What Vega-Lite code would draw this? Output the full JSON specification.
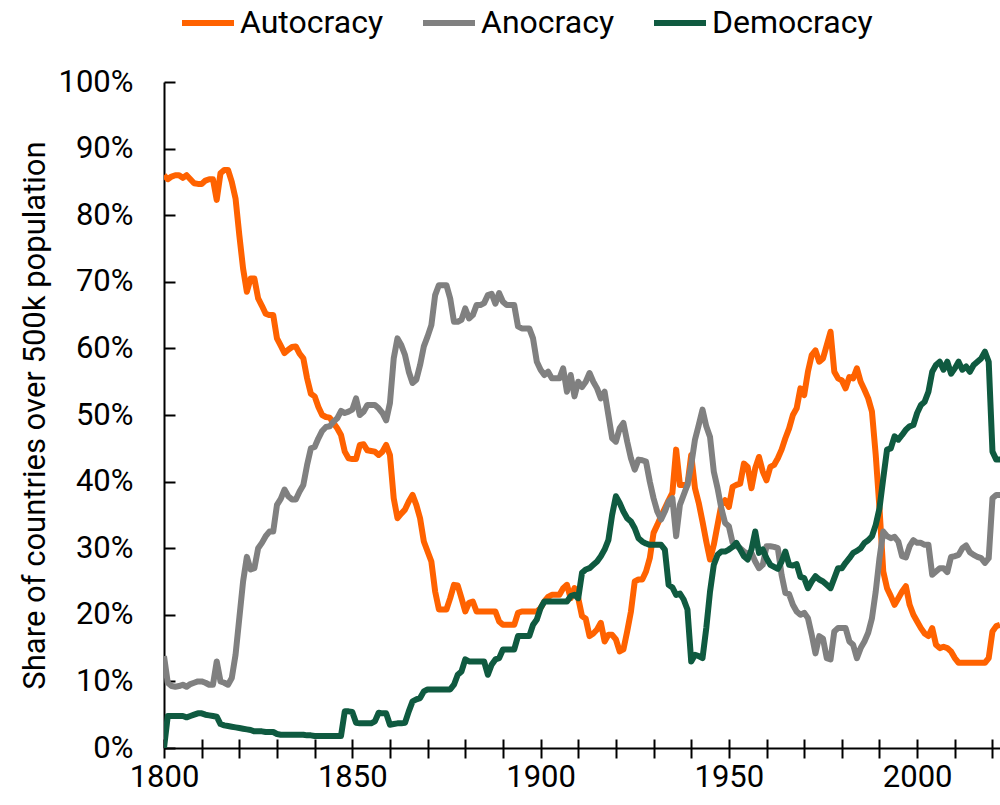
{
  "$schema": "https://vega.github.io/schema/vega-lite/v6.json",
  "width": 836,
  "height": 666,
  "autosize": {"type": "none"},
  "padding": {"left": 164, "top": 82, "right": 0, "bottom": 57},
  "background": "white",
  "config": {
    "font": "Roboto",
    "view": {"stroke": null},
    "axis": {"grid": false, "labelColor": "#000000", "titleColor": "#000000", "domainColor": "#000000", "tickColor": "#000000", "domainWidth": 2, "tickWidth": 2, "labelFont": "Roboto", "titleFont": "Roboto"},
    "legend": {"labelFont": "Roboto"}
  },
  "data": {"values": [
{"year":1800,"Autocracy":86.0,"Anocracy":13.8,"Democracy":0.0},
{"year":1801,"Autocracy":85.4,"Anocracy":9.8,"Democracy":4.8},
{"year":1802,"Autocracy":85.8,"Anocracy":9.3,"Democracy":4.8},
{"year":1803,"Autocracy":86.0,"Anocracy":9.2,"Democracy":4.8},
{"year":1804,"Autocracy":86.0,"Anocracy":9.3,"Democracy":4.8},
{"year":1805,"Autocracy":85.6,"Anocracy":9.5,"Democracy":4.8},
{"year":1806,"Autocracy":86.0,"Anocracy":9.2,"Democracy":4.6},
{"year":1807,"Autocracy":85.4,"Anocracy":9.6,"Democracy":4.8},
{"year":1808,"Autocracy":84.8,"Anocracy":9.8,"Democracy":5.0},
{"year":1809,"Autocracy":84.7,"Anocracy":10.0,"Democracy":5.2},
{"year":1810,"Autocracy":84.7,"Anocracy":10.0,"Democracy":5.2},
{"year":1811,"Autocracy":85.2,"Anocracy":9.8,"Democracy":5.0},
{"year":1812,"Autocracy":85.4,"Anocracy":9.5,"Democracy":4.9},
{"year":1813,"Autocracy":85.4,"Anocracy":9.5,"Democracy":4.8},
{"year":1814,"Autocracy":82.3,"Anocracy":13.0,"Democracy":4.7},
{"year":1815,"Autocracy":86.3,"Anocracy":10.0,"Democracy":3.6},
{"year":1816,"Autocracy":86.8,"Anocracy":9.8,"Democracy":3.4},
{"year":1817,"Autocracy":86.8,"Anocracy":9.5,"Democracy":3.3},
{"year":1818,"Autocracy":85.0,"Anocracy":10.5,"Democracy":3.2},
{"year":1819,"Autocracy":82.5,"Anocracy":14.0,"Democracy":3.1},
{"year":1820,"Autocracy":77.0,"Anocracy":19.5,"Democracy":3.0},
{"year":1821,"Autocracy":72.0,"Anocracy":25.0,"Democracy":2.9},
{"year":1822,"Autocracy":68.5,"Anocracy":28.7,"Democracy":2.8},
{"year":1823,"Autocracy":70.5,"Anocracy":26.8,"Democracy":2.7},
{"year":1824,"Autocracy":70.5,"Anocracy":27.0,"Democracy":2.5},
{"year":1825,"Autocracy":67.5,"Anocracy":30.0,"Democracy":2.5},
{"year":1826,"Autocracy":66.4,"Anocracy":30.8,"Democracy":2.5},
{"year":1827,"Autocracy":65.2,"Anocracy":31.8,"Democracy":2.4},
{"year":1828,"Autocracy":65.0,"Anocracy":32.5,"Democracy":2.4},
{"year":1829,"Autocracy":65.0,"Anocracy":32.5,"Democracy":2.4},
{"year":1830,"Autocracy":61.5,"Anocracy":36.5,"Democracy":2.1},
{"year":1831,"Autocracy":60.4,"Anocracy":37.4,"Democracy":2.0},
{"year":1832,"Autocracy":59.3,"Anocracy":38.8,"Democracy":2.0},
{"year":1833,"Autocracy":59.8,"Anocracy":37.8,"Democracy":2.0},
{"year":1834,"Autocracy":60.2,"Anocracy":37.3,"Democracy":2.0},
{"year":1835,"Autocracy":60.3,"Anocracy":37.3,"Democracy":2.0},
{"year":1836,"Autocracy":59.2,"Anocracy":38.5,"Democracy":2.0},
{"year":1837,"Autocracy":58.5,"Anocracy":39.5,"Democracy":2.0},
{"year":1838,"Autocracy":55.5,"Anocracy":42.5,"Democracy":1.9},
{"year":1839,"Autocracy":53.2,"Anocracy":45.0,"Democracy":1.9},
{"year":1840,"Autocracy":52.8,"Anocracy":45.2,"Democracy":1.8},
{"year":1841,"Autocracy":51.2,"Anocracy":46.5,"Democracy":1.8},
{"year":1842,"Autocracy":50.0,"Anocracy":47.6,"Democracy":1.8},
{"year":1843,"Autocracy":49.7,"Anocracy":48.2,"Democracy":1.8},
{"year":1844,"Autocracy":49.6,"Anocracy":48.3,"Democracy":1.8},
{"year":1845,"Autocracy":48.8,"Anocracy":49.0,"Democracy":1.8},
{"year":1846,"Autocracy":48.0,"Anocracy":49.5,"Democracy":1.8},
{"year":1847,"Autocracy":47.0,"Anocracy":50.6,"Democracy":1.8},
{"year":1848,"Autocracy":44.5,"Anocracy":50.3,"Democracy":5.5},
{"year":1849,"Autocracy":43.5,"Anocracy":50.5,"Democracy":5.5},
{"year":1850,"Autocracy":43.4,"Anocracy":50.8,"Democracy":5.4},
{"year":1851,"Autocracy":43.4,"Anocracy":52.5,"Democracy":3.8},
{"year":1852,"Autocracy":45.5,"Anocracy":50.0,"Democracy":3.7},
{"year":1853,"Autocracy":45.6,"Anocracy":50.5,"Democracy":3.7},
{"year":1854,"Autocracy":44.7,"Anocracy":51.5,"Democracy":3.7},
{"year":1855,"Autocracy":44.6,"Anocracy":51.5,"Democracy":3.7},
{"year":1856,"Autocracy":44.5,"Anocracy":51.5,"Democracy":4.0},
{"year":1857,"Autocracy":44.0,"Anocracy":51.0,"Democracy":5.3},
{"year":1858,"Autocracy":44.5,"Anocracy":50.3,"Democracy":5.2},
{"year":1859,"Autocracy":45.5,"Anocracy":49.2,"Democracy":5.2},
{"year":1860,"Autocracy":44.0,"Anocracy":51.8,"Democracy":3.5},
{"year":1861,"Autocracy":37.5,"Anocracy":58.5,"Democracy":3.6},
{"year":1862,"Autocracy":34.5,"Anocracy":61.5,"Democracy":3.7},
{"year":1863,"Autocracy":35.2,"Anocracy":60.5,"Democracy":3.7},
{"year":1864,"Autocracy":35.8,"Anocracy":59.0,"Democracy":3.8},
{"year":1865,"Autocracy":37.0,"Anocracy":56.5,"Democracy":5.5},
{"year":1866,"Autocracy":38.0,"Anocracy":54.8,"Democracy":7.0},
{"year":1867,"Autocracy":36.5,"Anocracy":55.3,"Democracy":7.3},
{"year":1868,"Autocracy":34.5,"Anocracy":57.5,"Democracy":7.5},
{"year":1869,"Autocracy":31.0,"Anocracy":60.3,"Democracy":8.5},
{"year":1870,"Autocracy":29.5,"Anocracy":61.8,"Democracy":8.8},
{"year":1871,"Autocracy":28.0,"Anocracy":63.5,"Democracy":8.8},
{"year":1872,"Autocracy":23.5,"Anocracy":68.0,"Democracy":8.8},
{"year":1873,"Autocracy":20.8,"Anocracy":69.5,"Democracy":8.8},
{"year":1874,"Autocracy":20.8,"Anocracy":69.5,"Democracy":8.8},
{"year":1875,"Autocracy":20.8,"Anocracy":69.5,"Democracy":8.8},
{"year":1876,"Autocracy":22.5,"Anocracy":67.5,"Democracy":8.8},
{"year":1877,"Autocracy":24.5,"Anocracy":64.0,"Democracy":9.5},
{"year":1878,"Autocracy":24.4,"Anocracy":64.0,"Democracy":11.0},
{"year":1879,"Autocracy":22.5,"Anocracy":64.3,"Democracy":11.5},
{"year":1880,"Autocracy":20.5,"Anocracy":66.0,"Democracy":13.3},
{"year":1881,"Autocracy":21.8,"Anocracy":64.5,"Democracy":13.0},
{"year":1882,"Autocracy":22.0,"Anocracy":65.0,"Democracy":13.0},
{"year":1883,"Autocracy":20.5,"Anocracy":66.5,"Democracy":13.0},
{"year":1884,"Autocracy":20.5,"Anocracy":66.5,"Democracy":13.0},
{"year":1885,"Autocracy":20.5,"Anocracy":66.8,"Democracy":13.0},
{"year":1886,"Autocracy":20.5,"Anocracy":68.0,"Democracy":11.0},
{"year":1887,"Autocracy":20.5,"Anocracy":68.2,"Democracy":12.5},
{"year":1888,"Autocracy":20.5,"Anocracy":66.7,"Democracy":13.3},
{"year":1889,"Autocracy":19.0,"Anocracy":68.3,"Democracy":13.5},
{"year":1890,"Autocracy":18.5,"Anocracy":67.0,"Democracy":14.8},
{"year":1891,"Autocracy":18.5,"Anocracy":66.5,"Democracy":14.8},
{"year":1892,"Autocracy":18.5,"Anocracy":66.5,"Democracy":14.8},
{"year":1893,"Autocracy":18.5,"Anocracy":66.5,"Democracy":14.8},
{"year":1894,"Autocracy":20.3,"Anocracy":63.3,"Democracy":16.8},
{"year":1895,"Autocracy":20.5,"Anocracy":63.0,"Democracy":16.8},
{"year":1896,"Autocracy":20.5,"Anocracy":63.0,"Democracy":16.8},
{"year":1897,"Autocracy":20.5,"Anocracy":63.0,"Democracy":16.8},
{"year":1898,"Autocracy":20.5,"Anocracy":61.5,"Democracy":18.5},
{"year":1899,"Autocracy":20.5,"Anocracy":58.0,"Democracy":19.3},
{"year":1900,"Autocracy":21.0,"Anocracy":56.8,"Democracy":21.0},
{"year":1901,"Autocracy":22.0,"Anocracy":56.0,"Democracy":22.0},
{"year":1902,"Autocracy":22.7,"Anocracy":56.5,"Democracy":22.0},
{"year":1903,"Autocracy":23.0,"Anocracy":55.5,"Democracy":22.0},
{"year":1904,"Autocracy":23.0,"Anocracy":55.5,"Democracy":22.0},
{"year":1905,"Autocracy":23.0,"Anocracy":55.5,"Democracy":22.0},
{"year":1906,"Autocracy":24.0,"Anocracy":57.0,"Democracy":22.0},
{"year":1907,"Autocracy":24.5,"Anocracy":53.5,"Democracy":22.0},
{"year":1908,"Autocracy":22.5,"Anocracy":56.0,"Democracy":22.8},
{"year":1909,"Autocracy":24.0,"Anocracy":52.8,"Democracy":23.0},
{"year":1910,"Autocracy":22.5,"Anocracy":55.0,"Democracy":22.5},
{"year":1911,"Autocracy":19.8,"Anocracy":54.2,"Democracy":26.3},
{"year":1912,"Autocracy":19.4,"Anocracy":55.0,"Democracy":26.8},
{"year":1913,"Autocracy":16.8,"Anocracy":56.3,"Democracy":27.0},
{"year":1914,"Autocracy":17.2,"Anocracy":55.0,"Democracy":27.5},
{"year":1915,"Autocracy":17.8,"Anocracy":54.0,"Democracy":28.0},
{"year":1916,"Autocracy":18.8,"Anocracy":52.5,"Democracy":28.8},
{"year":1917,"Autocracy":16.0,"Anocracy":53.5,"Democracy":29.8},
{"year":1918,"Autocracy":17.0,"Anocracy":50.0,"Democracy":31.2},
{"year":1919,"Autocracy":17.0,"Anocracy":46.5,"Democracy":35.0},
{"year":1920,"Autocracy":16.3,"Anocracy":46.0,"Democracy":37.8},
{"year":1921,"Autocracy":14.5,"Anocracy":48.0,"Democracy":36.8},
{"year":1922,"Autocracy":14.8,"Anocracy":48.8,"Democracy":35.5},
{"year":1923,"Autocracy":17.5,"Anocracy":46.0,"Democracy":34.5},
{"year":1924,"Autocracy":20.5,"Anocracy":43.5,"Democracy":34.0},
{"year":1925,"Autocracy":25.0,"Anocracy":41.8,"Democracy":33.0},
{"year":1926,"Autocracy":25.3,"Anocracy":43.3,"Democracy":31.5},
{"year":1927,"Autocracy":25.3,"Anocracy":43.2,"Democracy":31.0},
{"year":1928,"Autocracy":26.5,"Anocracy":43.0,"Democracy":30.7},
{"year":1929,"Autocracy":28.5,"Anocracy":40.0,"Democracy":30.5},
{"year":1930,"Autocracy":32.3,"Anocracy":37.5,"Democracy":30.5},
{"year":1931,"Autocracy":33.5,"Anocracy":35.5,"Democracy":30.5},
{"year":1932,"Autocracy":34.8,"Anocracy":34.3,"Democracy":30.5},
{"year":1933,"Autocracy":36.0,"Anocracy":35.5,"Democracy":29.8},
{"year":1934,"Autocracy":37.2,"Anocracy":37.0,"Democracy":24.5},
{"year":1935,"Autocracy":38.3,"Anocracy":37.5,"Democracy":24.1},
{"year":1936,"Autocracy":44.8,"Anocracy":31.8,"Democracy":23.0},
{"year":1937,"Autocracy":39.5,"Anocracy":36.5,"Democracy":23.2},
{"year":1938,"Autocracy":39.5,"Anocracy":38.0,"Democracy":22.3},
{"year":1939,"Autocracy":39.5,"Anocracy":39.5,"Democracy":20.8},
{"year":1940,"Autocracy":44.0,"Anocracy":42.5,"Democracy":13.0},
{"year":1941,"Autocracy":39.0,"Anocracy":46.3,"Democracy":14.0},
{"year":1942,"Autocracy":36.8,"Anocracy":48.5,"Democracy":13.8},
{"year":1943,"Autocracy":34.0,"Anocracy":50.8,"Democracy":13.5},
{"year":1944,"Autocracy":31.0,"Anocracy":48.3,"Democracy":18.0},
{"year":1945,"Autocracy":28.3,"Anocracy":46.7,"Democracy":23.5},
{"year":1946,"Autocracy":30.5,"Anocracy":41.5,"Democracy":27.5},
{"year":1947,"Autocracy":33.5,"Anocracy":39.0,"Democracy":29.0},
{"year":1948,"Autocracy":36.5,"Anocracy":36.0,"Democracy":29.5},
{"year":1949,"Autocracy":37.2,"Anocracy":33.8,"Democracy":29.5},
{"year":1950,"Autocracy":36.2,"Anocracy":33.3,"Democracy":29.8},
{"year":1951,"Autocracy":39.2,"Anocracy":30.8,"Democracy":30.2},
{"year":1952,"Autocracy":39.5,"Anocracy":30.3,"Democracy":30.8},
{"year":1953,"Autocracy":39.7,"Anocracy":30.0,"Democracy":29.8},
{"year":1954,"Autocracy":42.7,"Anocracy":29.5,"Democracy":28.8},
{"year":1955,"Autocracy":42.2,"Anocracy":29.2,"Democracy":28.3},
{"year":1956,"Autocracy":39.0,"Anocracy":29.3,"Democracy":29.8},
{"year":1957,"Autocracy":42.0,"Anocracy":28.0,"Democracy":32.5},
{"year":1958,"Autocracy":43.7,"Anocracy":27.0,"Democracy":29.3},
{"year":1959,"Autocracy":41.5,"Anocracy":27.5,"Democracy":29.8},
{"year":1960,"Autocracy":40.2,"Anocracy":30.3,"Democracy":28.5},
{"year":1961,"Autocracy":42.2,"Anocracy":30.3,"Democracy":27.5},
{"year":1962,"Autocracy":42.5,"Anocracy":30.2,"Democracy":27.2},
{"year":1963,"Autocracy":43.5,"Anocracy":30.0,"Democracy":26.9},
{"year":1964,"Autocracy":44.8,"Anocracy":26.0,"Democracy":28.0},
{"year":1965,"Autocracy":46.5,"Anocracy":23.3,"Democracy":29.5},
{"year":1966,"Autocracy":48.0,"Anocracy":23.1,"Democracy":27.5},
{"year":1967,"Autocracy":50.0,"Anocracy":21.5,"Democracy":27.4},
{"year":1968,"Autocracy":51.0,"Anocracy":20.5,"Democracy":27.6},
{"year":1969,"Autocracy":54.0,"Anocracy":20.0,"Democracy":25.7},
{"year":1970,"Autocracy":53.0,"Anocracy":20.3,"Democracy":25.5},
{"year":1971,"Autocracy":56.5,"Anocracy":19.5,"Democracy":24.0},
{"year":1972,"Autocracy":59.0,"Anocracy":17.0,"Democracy":25.0},
{"year":1973,"Autocracy":59.7,"Anocracy":14.2,"Democracy":25.8},
{"year":1974,"Autocracy":58.0,"Anocracy":16.8,"Democracy":25.3},
{"year":1975,"Autocracy":58.5,"Anocracy":16.4,"Democracy":25.0},
{"year":1976,"Autocracy":60.5,"Anocracy":13.5,"Democracy":24.5},
{"year":1977,"Autocracy":62.5,"Anocracy":13.3,"Democracy":24.0},
{"year":1978,"Autocracy":56.5,"Anocracy":17.5,"Democracy":25.5},
{"year":1979,"Autocracy":55.5,"Anocracy":18.0,"Democracy":27.0},
{"year":1980,"Autocracy":55.2,"Anocracy":18.0,"Democracy":27.0},
{"year":1981,"Autocracy":54.0,"Anocracy":18.0,"Democracy":27.8},
{"year":1982,"Autocracy":55.7,"Anocracy":16.0,"Democracy":28.5},
{"year":1983,"Autocracy":55.5,"Anocracy":15.5,"Democracy":29.3},
{"year":1984,"Autocracy":57.0,"Anocracy":13.5,"Democracy":29.6},
{"year":1985,"Autocracy":55.0,"Anocracy":15.0,"Democracy":30.0},
{"year":1986,"Autocracy":53.8,"Anocracy":16.0,"Democracy":30.8},
{"year":1987,"Autocracy":52.5,"Anocracy":17.3,"Democracy":31.2},
{"year":1988,"Autocracy":50.5,"Anocracy":19.5,"Democracy":31.8},
{"year":1989,"Autocracy":44.0,"Anocracy":23.5,"Democracy":33.5},
{"year":1990,"Autocracy":36.0,"Anocracy":28.5,"Democracy":36.0},
{"year":1991,"Autocracy":26.5,"Anocracy":32.5,"Democracy":40.5},
{"year":1992,"Autocracy":24.0,"Anocracy":31.8,"Democracy":44.8},
{"year":1993,"Autocracy":22.8,"Anocracy":31.5,"Democracy":45.0},
{"year":1994,"Autocracy":21.5,"Anocracy":31.7,"Democracy":46.8},
{"year":1995,"Autocracy":22.5,"Anocracy":31.0,"Democracy":46.3},
{"year":1996,"Autocracy":23.5,"Anocracy":28.8,"Democracy":47.0},
{"year":1997,"Autocracy":24.3,"Anocracy":28.6,"Democracy":47.8},
{"year":1998,"Autocracy":21.5,"Anocracy":30.3,"Democracy":48.3},
{"year":1999,"Autocracy":20.0,"Anocracy":31.2,"Democracy":48.5},
{"year":2000,"Autocracy":19.0,"Anocracy":30.8,"Democracy":50.3},
{"year":2001,"Autocracy":18.0,"Anocracy":30.8,"Democracy":51.5},
{"year":2002,"Autocracy":17.2,"Anocracy":30.5,"Democracy":52.0},
{"year":2003,"Autocracy":16.8,"Anocracy":30.5,"Democracy":53.5},
{"year":2004,"Autocracy":18.0,"Anocracy":26.0,"Democracy":56.5},
{"year":2005,"Autocracy":15.5,"Anocracy":26.5,"Democracy":57.5},
{"year":2006,"Autocracy":15.0,"Anocracy":27.0,"Democracy":58.0},
{"year":2007,"Autocracy":15.2,"Anocracy":27.0,"Democracy":56.8},
{"year":2008,"Autocracy":15.0,"Anocracy":26.4,"Democracy":58.0},
{"year":2009,"Autocracy":14.5,"Anocracy":28.7,"Democracy":56.2},
{"year":2010,"Autocracy":13.5,"Anocracy":28.8,"Democracy":57.0},
{"year":2011,"Autocracy":12.8,"Anocracy":29.0,"Democracy":58.0},
{"year":2012,"Autocracy":12.8,"Anocracy":30.0,"Democracy":56.8},
{"year":2013,"Autocracy":12.8,"Anocracy":30.4,"Democracy":57.3},
{"year":2014,"Autocracy":12.8,"Anocracy":29.4,"Democracy":56.5},
{"year":2015,"Autocracy":12.8,"Anocracy":29.0,"Democracy":57.5},
{"year":2016,"Autocracy":12.8,"Anocracy":28.7,"Democracy":58.0},
{"year":2017,"Autocracy":12.8,"Anocracy":28.5,"Democracy":58.5},
{"year":2018,"Autocracy":12.8,"Anocracy":27.8,"Democracy":59.5},
{"year":2019,"Autocracy":13.5,"Anocracy":28.5,"Democracy":58.0},
{"year":2020,"Autocracy":17.5,"Anocracy":37.5,"Democracy":44.5},
{"year":2021,"Autocracy":18.3,"Anocracy":38.0,"Democracy":43.3},
{"year":2022,"Autocracy":18.5,"Anocracy":38.0,"Democracy":43.3}
  ]},
  "transform": [{"fold": ["Autocracy", "Anocracy", "Democracy"], "as": ["regime", "share"]}],
  "resolve": {"axis": {"x": "independent"}},
  "encoding": {
    "y": {"field": "share", "type": "quantitative",
      "scale": {"domain": [0, 100], "nice": false},
      "axis": {"orient": "left", "values": [0,10,20,30,40,50,60,70,80,90,100], "labelExpr": "datum.value + '%'", "tickSize": -11, "labelFontSize": 31, "labelPadding": 42,
        "title": "Share of countries over 500k population", "titleFontSize": 31, "titleFontWeight": "normal", "titlePadding": 7}}
  },
  "layer": [
    {
      "mark": {"type": "line", "strokeWidth": 6, "strokeJoin": "round", "strokeCap": "butt", "clip": true},
      "encoding": {
        "x": {"field": "year", "type": "quantitative",
          "scale": {"domain": [1800, 2022], "nice": false, "zero": false},
          "axis": {"orient": "bottom", "title": null, "values": [1800,1810,1820,1830,1840,1850,1860,1870,1880,1890,1900,1910,1920,1930,1940,1950,1960,1970,1980,1990,2000,2010,2020],
            "format": "d", "labelExpr": "datum.value % 50 === 0 ? datum.label : ''", "tickSize": 10, "labelFontSize": 31, "labelPadding": 4, "labelFlush": false, "labelOverlap": false}},
        "color": {"field": "regime", "type": "nominal",
          "scale": {"domain": ["Autocracy", "Anocracy", "Democracy"], "range": ["#FF6200", "#808080", "#0F5A40"]},
          "legend": {"orient": "none", "legendX": 15, "legendY": -88, "direction": "horizontal", "title": null, "symbolType": "stroke", "symbolSize": 2704, "symbolStrokeWidth": 6, "labelFontSize": 32, "labelColor": "#000000", "labelLimit": 400, "columnPadding": 27, "labelOffset": 3}}
      }
    },
    {
      "mark": {"type": "line", "opacity": 0},
      "encoding": {
        "x": {"field": "year", "type": "quantitative",
          "scale": {"domain": [1800, 2022], "nice": false, "zero": false},
          "axis": {"orient": "bottom", "title": null, "values": [1800,1810,1820,1830,1840,1850,1860,1870,1880,1890,1900,1910,1920,1930,1940,1950,1960,1970,1980,1990,2000,2010,2020],
            "labels": false, "domain": false, "tickSize": -9}},
        "detail": {"field": "regime", "type": "nominal"}
      }
    }
  ]
}
